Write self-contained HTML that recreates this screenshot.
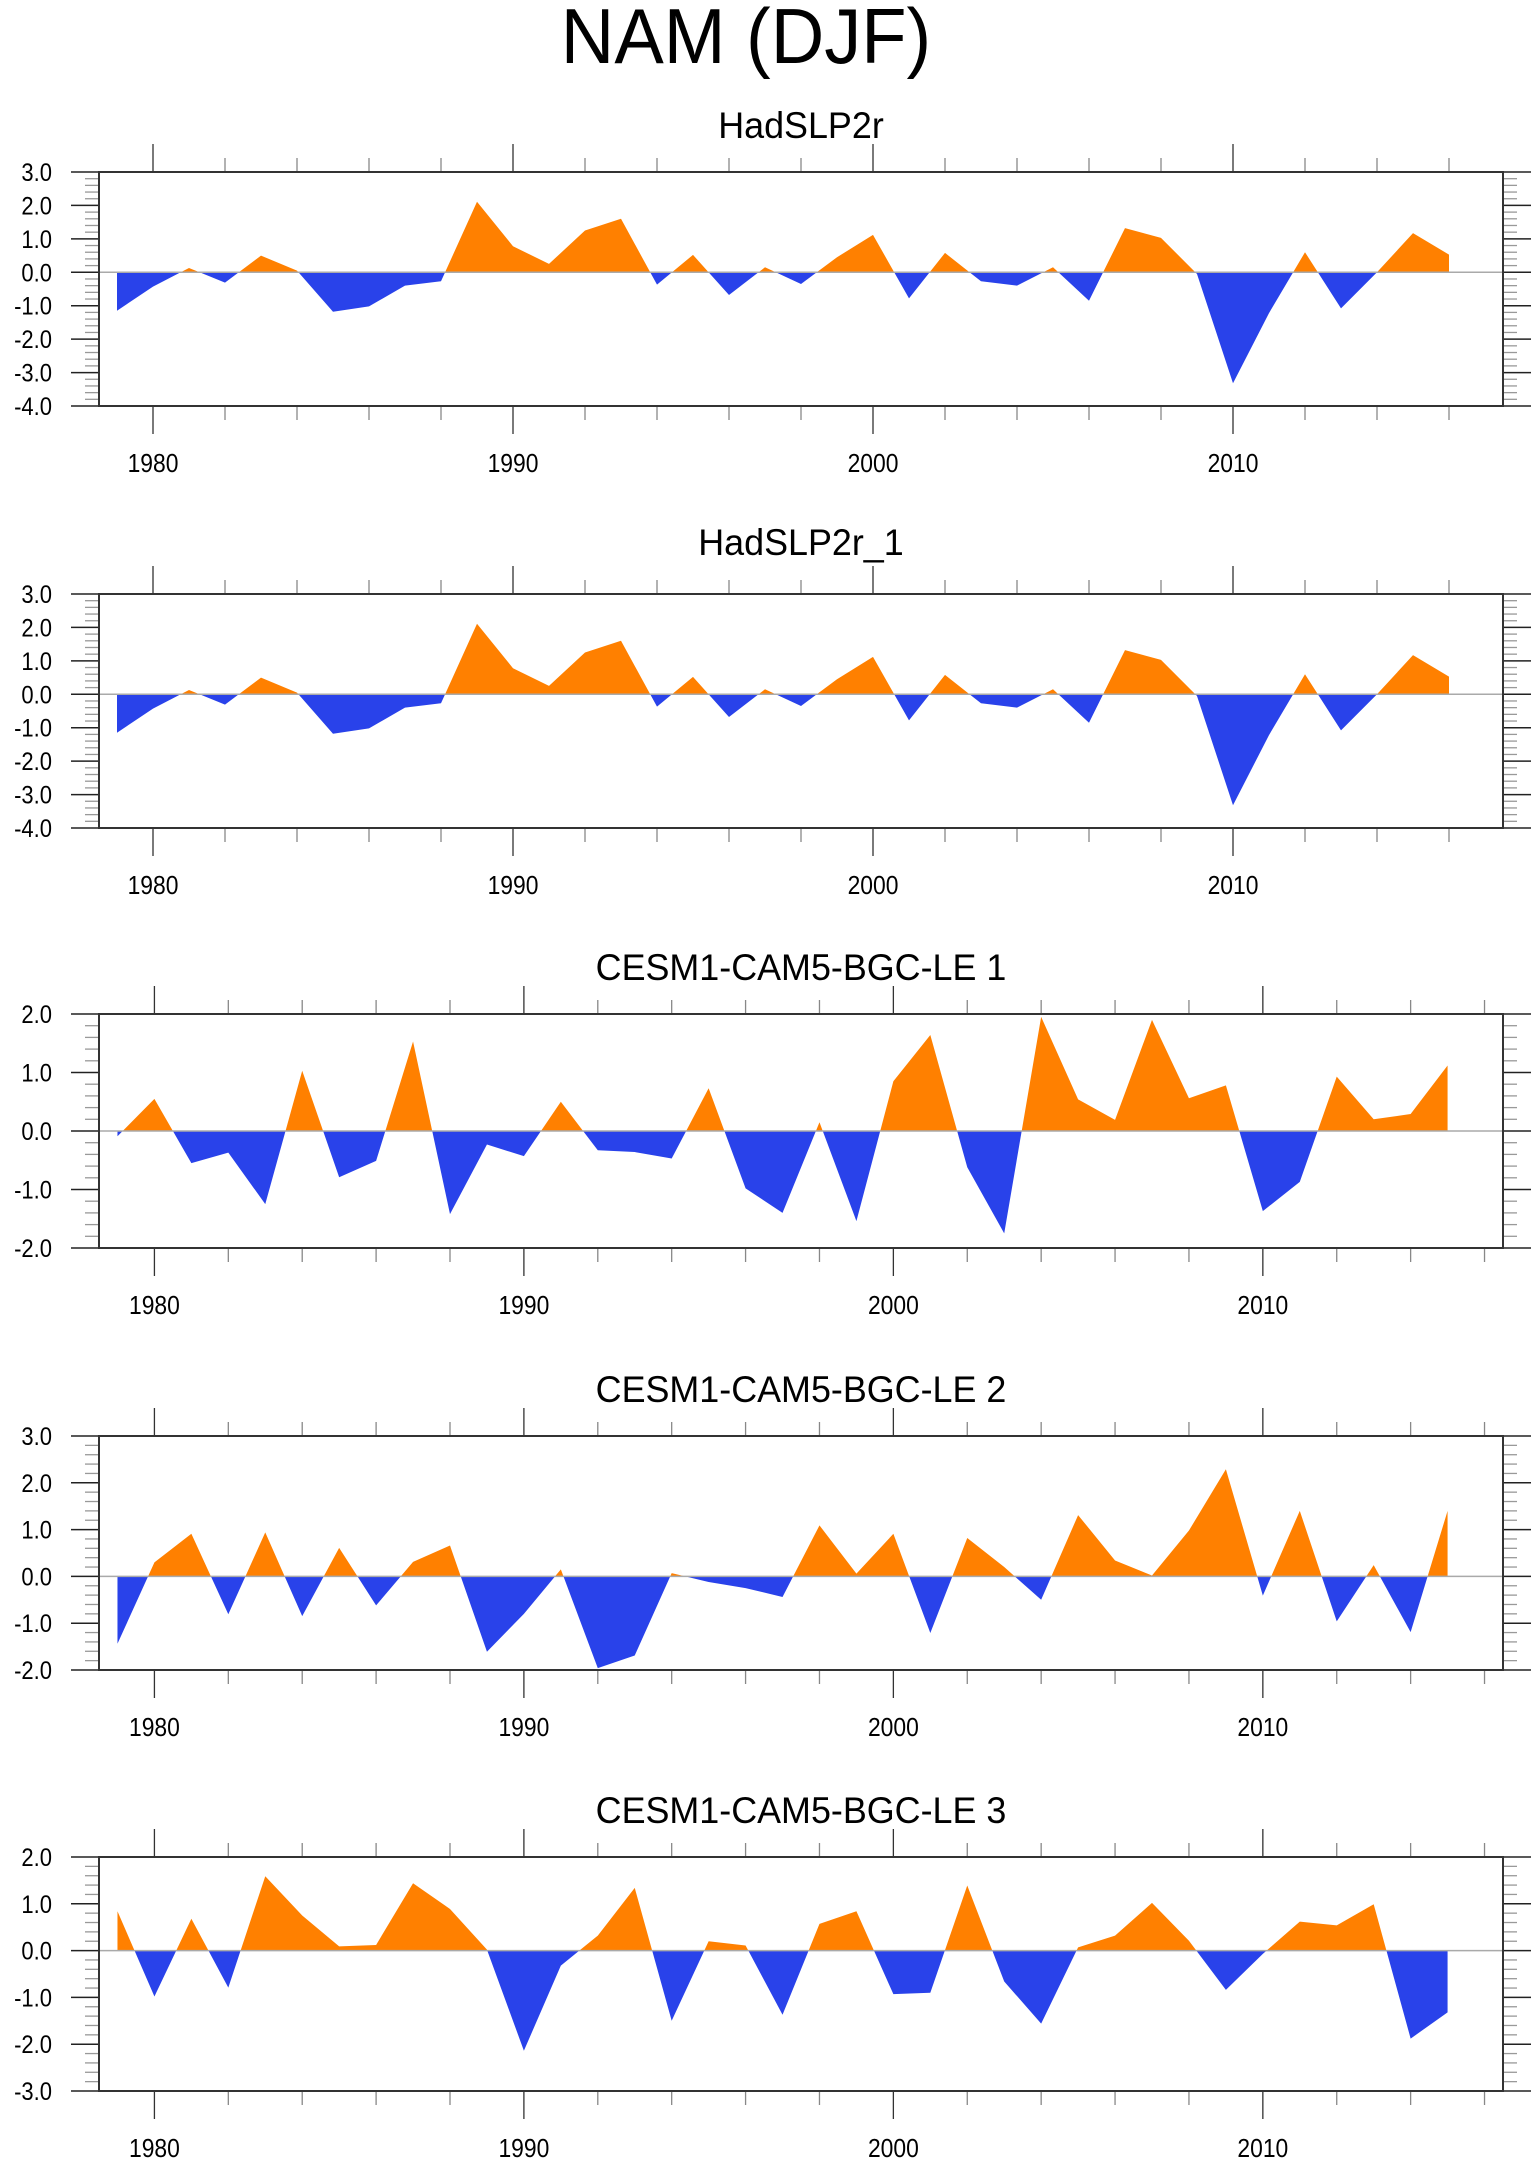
<!DOCTYPE html>
<html><head><meta charset="utf-8"><style>
html,body{margin:0;padding:0;background:#fff;}
svg{display:block;font-family:"Liberation Sans",sans-serif;}
</style></head><body>
<svg id="chart" width="1540" height="2166" viewBox="0 0 1540 2166" xmlns="http://www.w3.org/2000/svg">
<text transform="translate(746,63) scale(0.95,1)" font-size="78" text-anchor="middle">NAM (DJF)</text>
</svg>
<script>
const titles = ["HadSLP2r","HadSLP2r_1","CESM1-CAM5-BGC-LE 1","CESM1-CAM5-BGC-LE 2","CESM1-CAM5-BGC-LE 3"];
const startYear = 1979;
const obsValues = [-1.15,-0.43,0.13,-0.31,0.5,0.05,-1.18,-1.02,-0.4,-0.27,2.11,0.78,0.25,1.25,1.6,-0.37,0.52,-0.68,0.15,-0.35,0.45,1.12,-0.78,0.58,-0.27,-0.4,0.15,-0.85,1.32,1.03,-0.05,-3.32,-1.22,0.6,-1.08,0.0,1.17,0.53];
const le1Values = [-0.09,0.55,-0.55,-0.37,-1.25,1.03,-0.79,-0.51,1.53,-1.42,-0.23,-0.43,0.5,-0.33,-0.36,-0.47,0.73,-0.98,-1.4,0.15,-1.54,0.85,1.64,-0.62,-1.75,1.95,0.54,0.19,1.9,0.56,0.78,-1.37,-0.87,0.93,0.2,0.29,1.12];
const le2Values = [-1.44,0.3,0.91,-0.81,0.94,-0.85,0.61,-0.62,0.31,0.66,-1.61,-0.8,0.15,-1.96,-1.69,0.07,-0.12,-0.25,-0.44,1.09,0.06,0.91,-1.21,0.82,0.2,-0.5,1.31,0.34,0.02,0.98,2.29,-0.41,1.4,-0.96,0.24,-1.19,1.4];
const le3Values = [0.84,-0.98,0.68,-0.79,1.59,0.75,0.09,0.12,1.44,0.89,0.02,-2.14,-0.32,0.32,1.34,-1.5,0.2,0.11,-1.37,0.57,0.84,-0.93,-0.9,1.39,-0.66,-1.56,0.07,0.32,1.02,0.21,-0.84,-0.07,0.62,0.54,0.99,-1.88,-1.32];
const seriesList = [obsValues, obsValues, le1Values, le2Values, le3Values];
const yMins = [-4,-4,-2,-2,-3];
const yMaxs = [3,3,2,3,2];
const xMaxs = [2017.5,2017.5,2016.5,2016.5,2016.5];
const xTickYears = [1980,1990,2000,2010];

const NS="http://www.w3.org/2000/svg";
const svg=document.getElementById('chart');
function mk(tag,attrs,parent){const e=document.createElementNS(NS,tag);for(const k in attrs)e.setAttribute(k,attrs[k]);(parent||svg).appendChild(e);return e;}
const L=99,R=1503,H=234;
const tops=[172,594,1014,1436,1857];
const titleOff=[34,39,34,34,34];

seriesList.forEach((vals,p)=>{
  const top=tops[p], bot=top+H;
  const g=mk('g',{});
  
  
  const x=yr=>L+(yr-1978.5)/(xMaxs[p]-1978.5)*(R-L);
  const y=v=>top+(yMaxs[p]-v)/(yMaxs[p]-yMins[p])*H;
  const y0=y(0);
  const t=mk('text',{transform:'translate(801,'+(top-titleOff[p])+') scale(0.97,1)','font-size':37,'text-anchor':'middle'},g);
  t.textContent=titles[p];
  
  
  const cid='c'+p;
  const cpA=mk('clipPath',{id:cid+'a'},g); mk('rect',{x:L,y:top,width:R-L,height:y0-top},cpA);
  const cpB=mk('clipPath',{id:cid+'b'},g); mk('rect',{x:L,y:y0,width:R-L,height:bot-y0},cpB);
  let pts=x(startYear)+','+y0+' ';
  vals.forEach((v,i)=>{pts+=x(startYear+i)+','+y(v)+' ';});
  pts+=x(startYear+vals.length-1)+','+y0;
  const pos=mk('polygon',{points:pts,fill:'#ff8000','clip-path':'url(#'+cid+'a)'},g);
  
  
  const neg=mk('polygon',{points:pts,fill:'#2942ea','clip-path':'url(#'+cid+'b)'},g);
  
  
  const zl=mk('line',{x1:L,x2:R,y1:y0,y2:y0,stroke:'#aaa','stroke-width':1.5},g);
  
  
  for(let yr=1980; yr<=xMaxs[p]; yr+=2){
    const xx=x(yr), major=(yr%10===0);
    const len=major?28:14;
    mk('line',{x1:xx,x2:xx,y1:top,y2:top-len,stroke:major?'#333':'#888','stroke-width':1.3},g);
    mk('line',{x1:xx,x2:xx,y1:bot,y2:bot+len,stroke:major?'#333':'#888','stroke-width':1.3},g);
  }
  xTickYears.forEach(yr=>{
    const lt=mk('text',{transform:'translate('+x(yr)+','+(bot+66)+') scale(0.88,1)','font-size':26,'text-anchor':'middle'},g);
    lt.textContent=yr;
    
    
  });
  const n=Math.round((yMaxs[p]-yMins[p])*5);
  for(let k=0;k<=n;k++){
    const v=yMins[p]+k*0.2, yy=y(v), major=(k%5===0);
    const len=major?28:14;
    mk('line',{x1:L,x2:L-len,y1:yy,y2:yy,stroke:major?'#222':'#999','stroke-width':major?1.5:1.3},g);
    mk('line',{x1:R,x2:R+len,y1:yy,y2:yy,stroke:major?'#222':'#999','stroke-width':major?1.5:1.3},g);
    if(major){
      const lt=mk('text',{transform:'translate(52,'+(yy+9)+') scale(0.88,1)','font-size':25,'text-anchor':'end'},g);
      lt.textContent=v.toFixed(1);
      
      
    }
  }
  const fr=mk('rect',{x:L,y:top,width:R-L,height:H,fill:'none',stroke:'#333','stroke-width':2},g);
  
  
});
</script>
</body></html>
